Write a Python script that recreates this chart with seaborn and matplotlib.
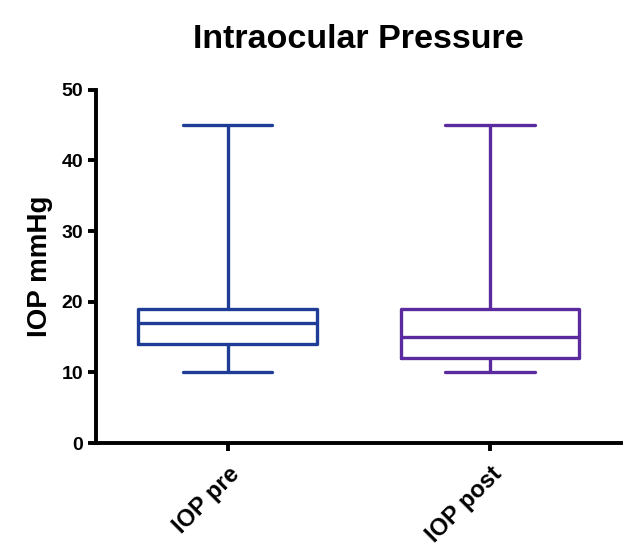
import pandas as pd
import seaborn as sns
import matplotlib.pyplot as plt

# five-number summaries (min, Q1, median, Q3, max)
groups = ["IOP pre", "IOP post"]
iop_pre = [10, 14, 17, 19, 45]
iop_post = [10, 12, 15, 19, 45]
colors = ["#1f3d96", "#5a2a9e"]

frame = pd.DataFrame({
    "Group": [groups[0]] * len(iop_pre) + [groups[1]] * len(iop_post),
    "IOP": iop_pre + iop_post,
})

sns.set_style("ticks")
plt.rcParams['font.family'] = ['Liberation Sans', 'DejaVu Sans']
plt.rcParams['font.weight'] = 'bold'
plt.rcParams['text.color'] = 'black'
plt.rcParams['axes.labelcolor'] = 'black'
plt.rcParams['xtick.color'] = 'black'
plt.rcParams['ytick.color'] = 'black'
plt.rcParams['axes.edgecolor'] = 'black'

fig = plt.figure(figsize=(6.25, 5.58), dpi=100)
ax = fig.add_axes([0.154, 0.206, 0.84, 0.633])

# whiskers from min to max
sns.boxplot(data=frame, x="Group", y="IOP", hue="Group", order=groups,
            palette=colors, whis=(0, 100), width=0.68, fill=False,
            linewidth=2.4, ax=ax, legend=False)

ax.set_ylim(0, 50)
ax.set_xlim(-0.5, 1.5)
ax.set_yticks([0, 10, 20, 30, 40, 50])
ax.set_xlabel("")
ax.set_ylabel("IOP mmHg", fontsize=20, fontweight="bold", labelpad=6)
ax.set_title("Intraocular Pressure", fontsize=24.5, fontweight="bold", pad=30)
sns.despine(ax=ax)
for s in ["left", "bottom"]:
    ax.spines[s].set_linewidth(2.8)
ax.tick_params(axis="both", width=2.8, length=6)
ax.tick_params(axis="y", labelsize=14)
ax.tick_params(axis="x", labelsize=17, pad=8)
plt.setp(ax.get_xticklabels(), rotation=45, ha="right", rotation_mode="anchor")

fig.savefig("out.png", dpi=100)
